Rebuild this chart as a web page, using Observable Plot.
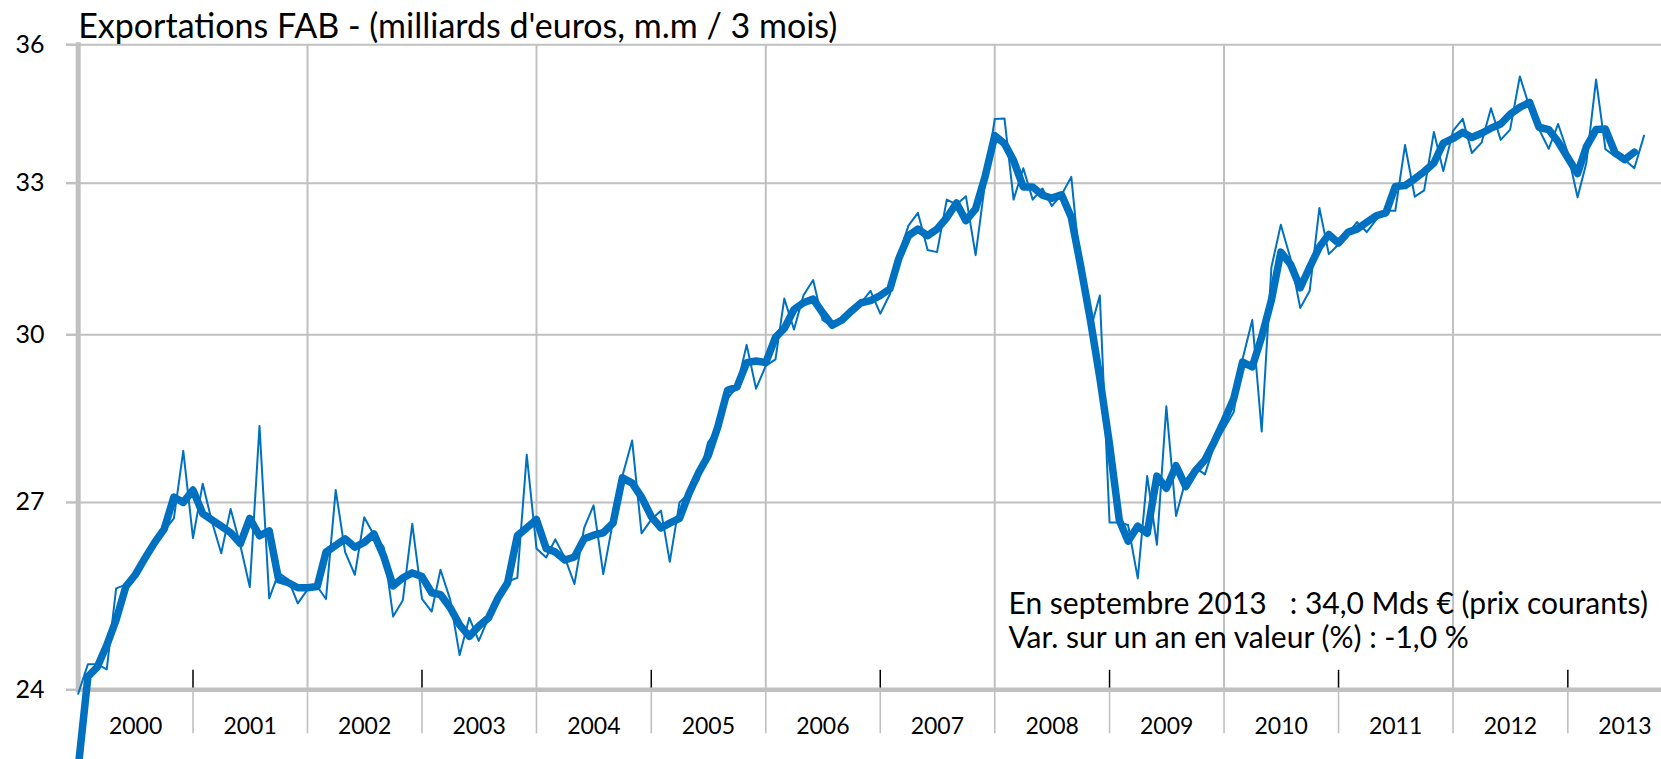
<!DOCTYPE html>
<html>
<head>
<meta charset="utf-8">
<script src="https://cdn.jsdelivr.net/npm/d3@7"></script>
<script src="https://cdn.jsdelivr.net/npm/@observablehq/plot@0.6"></script>
<style>
  html, body { margin: 0; padding: 0; background: #fff; overflow: hidden; }
  #chart svg text, #chart svg tspan { white-space: pre; }
</style>
</head>
<body>
<div id="chart"></div>
<script>
// ---- Données (milliards d'euros), mensuel à partir de janvier 2000 ----
const debutAnnee = 2000;

const exportsMensuels = [
  23.94, 24.39, 24.39, 24.31, 25.58, 25.64, 25.80, 26.04, 26.31, 26.52, 26.73, 27.89,
  26.40, 27.32, 26.70, 26.15, 26.89, 26.28, 25.60, 28.33, 25.42, 25.83, 25.72, 25.34,
  25.56, 25.61, 25.41, 27.21, 26.17, 25.80, 26.75, 26.45, 26.25, 25.13, 25.39, 26.64,
  25.41, 25.21, 25.88, 25.40, 24.53, 25.11, 24.75, 25.11, 25.43, 25.69, 25.75, 27.82,
  26.23, 26.08, 26.38, 26.07, 25.65, 26.57, 26.95, 25.81, 26.68, 27.45, 28.07, 26.48,
  26.71, 26.86, 26.01, 27.00, 27.15, 27.39, 28.04, 28.28, 28.82, 29.03, 29.81, 29.00,
  29.42, 29.54, 30.69, 30.10, 30.75, 31.05, 30.28, 30.15, 30.25, 30.42, 30.61, 30.84,
  30.40, 30.78, 31.54, 32.13, 32.39, 31.64, 31.60, 32.66, 32.56, 32.73, 31.54, 33.00,
  34.36, 34.37, 32.66, 33.31, 32.66, 32.89, 32.53, 32.76, 33.13, 31.20, 30.10, 30.75,
  26.66, 26.66, 26.62, 25.74, 27.45, 26.29, 28.68, 26.77, 27.39, 27.60, 27.48, 27.99,
  28.28, 28.58, 29.54, 30.28, 28.23, 31.30, 32.15, 31.47, 30.51, 30.84, 32.49, 31.56,
  31.75, 31.98, 32.20, 32.00, 32.25, 32.43, 32.43, 33.80, 32.72, 32.85, 34.08, 33.25,
  34.10, 34.36, 33.63, 33.85, 34.59, 33.91, 34.13, 35.29, 34.61, 34.14, 33.72, 34.25,
  33.63, 32.71, 33.42, 35.22, 33.71, 33.56, 33.49, 33.31, 34.00
];

const moyenneMobile3 = [
  22.85, 24.20, 24.34, 24.68, 25.08, 25.61, 25.80, 26.07, 26.33, 26.55, 27.09, 27.00,
  27.21, 26.81, 26.71, 26.60, 26.49, 26.31, 26.73, 26.44, 26.52, 25.72, 25.67, 25.59,
  25.59, 25.61, 26.17, 26.28, 26.39, 26.25, 26.33, 26.47, 26.10, 25.62, 25.75, 25.83,
  25.77, 25.51, 25.48, 25.27, 25.00, 24.82, 24.98, 25.11, 25.43, 25.67, 26.44, 26.57,
  26.71, 26.23, 26.17, 26.04, 26.09, 26.39, 26.45, 26.49, 26.65, 27.42, 27.33, 27.09,
  26.76, 26.57, 26.65, 26.73, 27.15, 27.51, 27.80, 28.31, 28.97, 29.03, 29.48, 29.51,
  29.48, 29.95, 30.12, 30.48, 30.61, 30.68, 30.42, 30.18, 30.28, 30.45, 30.61, 30.65,
  30.75, 30.88, 31.47, 31.93, 32.06, 31.93, 32.06, 32.29, 32.59, 32.23, 32.47, 33.13,
  34.00, 33.83, 33.47, 32.92, 32.92, 32.75, 32.69, 32.76, 32.30, 31.32, 30.28, 29.20,
  28.00, 26.70, 26.35, 26.60, 26.48, 27.45, 27.24, 27.63, 27.27, 27.54, 27.73, 28.05,
  28.42, 28.82, 29.49, 29.40, 29.96, 30.66, 31.60, 31.36, 30.90, 31.30, 31.70, 31.95,
  31.78, 32.00, 32.06, 32.20, 32.33, 32.39, 32.93, 32.95, 33.09, 33.24, 33.42, 33.84,
  33.94, 34.07, 33.96, 34.05, 34.16, 34.25, 34.46, 34.61, 34.72, 34.18, 34.13, 33.87,
  33.53, 33.20, 33.76, 34.13, 34.14, 33.63, 33.49, 33.65
];

const yTicks = [24, 27, 30, 33, 36];
const annees = [2000, 2001, 2002, 2003, 2004, 2005, 2006, 2007, 2008, 2009, 2010, 2011, 2012, 2013];
const titre = "Exportations FAB - (milliards d'euros, m.m / 3 mois)";
const note = [
  "En septembre 2013   : 34,0 Mds € (prix courants)",
  "Var. sur un an en valeur (%) : -1,0 %"
];

// ---- Construction ----
(function () {
  const mois = i => new Date(Date.UTC(debutAnnee, i, 1));
  const serieMensuelle = exportsMensuels.map((v, i) => ({date: mois(i), valeur: v}));
  const serieMM = moyenneMobile3.map((v, i) => ({date: mois(i), valeur: v}));
  const debutAn = a => new Date(Date.UTC(a, 0, 1));
  const milieuAn = a => new Date(Date.UTC(a, 6, 2));
  const separateurs = annees.slice(1).map(debutAn);
  const grilleX = annees.filter(a => a > 2000 && a % 2 === 0).map(debutAn);
  const traitsNoirs = annees.filter(a => a % 2 === 1).map(debutAn);

  const W = 1661, H = 759;
  const mLeft = 77.7, mTop = 44.2, yBottom = 689.3, yearW = 114.58;
  const xRight = mLeft + 14 * yearW;
  const gray = "#C0C0C0", blue = "#0070C0";
  const font = "Lato, 'Noto Sans', sans-serif";

  const chart = Plot.plot({
    width: W,
    height: H,
    marginLeft: mLeft,
    marginTop: mTop,
    marginBottom: H - yBottom,
    marginRight: W - xRight,
    x: {type: "utc", domain: [debutAn(2000), debutAn(2014)], range: [mLeft, xRight]},
    y: {type: "log", domain: [24, 36], range: [yBottom, mTop]},
    style: {fontFamily: font, color: "#000", background: "#fff", overflow: "hidden"},
    marks: [
      Plot.gridY([27, 30, 33, 36], {stroke: gray, strokeOpacity: 1, strokeWidth: 2}),
      Plot.gridX(grilleX, {stroke: gray, strokeOpacity: 1, strokeWidth: 2}),
      Plot.axisY(yTicks, {anchor: "left", tickSize: 11.7, tickPadding: 22, stroke: gray, strokeWidth: 2.5,
        fontSize: 25, tickFormat: d => String(d), label: null}),
      Plot.axisX(separateurs, {anchor: "bottom", tickSize: 44, tickFormat: () => "", stroke: gray,
        strokeWidth: 1.6, label: null}),
      Plot.axisX(annees.map(milieuAn), {anchor: "bottom", tickSize: 0, tickPadding: 28, fontSize: 23,
        tickFormat: d => String(d.getUTCFullYear()), label: null}),
      Plot.tickX(traitsNoirs, {x: d => d, stroke: "#000", strokeWidth: 1.5, insetTop: (yBottom - mTop) - 19.5}),
      Plot.frame({anchor: "bottom", stroke: gray, strokeWidth: 4.5}),
      Plot.frame({anchor: "left", stroke: gray, strokeWidth: 5}),
      Plot.line(serieMensuelle, {x: "date", y: "valeur", stroke: blue, strokeWidth: 2, strokeLinejoin: "round"}),
      Plot.line(serieMM, {x: "date", y: "valeur", stroke: blue, strokeWidth: 7.5, strokeLinejoin: "round", strokeLinecap: "round"}),
      Plot.text([titre], {frameAnchor: "top-left", textAnchor: "start", lineAnchor: "top",
        dx: 0, dy: -30.6, fontSize: 34, fill: "#000"}),
      Plot.text([note.join("\n")], {frameAnchor: "top-left", textAnchor: "start", lineAnchor: "top",
        dx: 930.3, dy: 545.5, fontSize: 30, lineHeight: 1.133, fill: "#000"})
    ]
  });
  document.getElementById("chart").appendChild(chart);
})();
</script>
</body>
</html>
